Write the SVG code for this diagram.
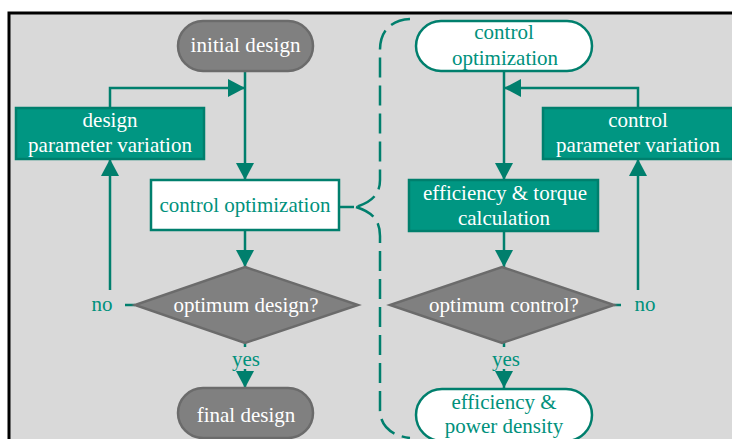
<svg xmlns="http://www.w3.org/2000/svg" width="732" height="439" viewBox="0 0 732 439" font-family="'Liberation Serif', 'DejaVu Serif', serif">
  <style>
    text { font-family: 'Liberation Serif', 'DejaVu Serif', serif; font-size: 21px; text-anchor: middle; }
    .light { fill: #ffffff; }
    .dark { fill: #00917c; }
    .term { fill: #808080; stroke: #6b6b6b; stroke-width: 2.5; }
    .proc { fill: #009682; stroke: #007f6d; stroke-width: 2.5; }
    .open { fill: #ffffff; stroke: #007f6d; stroke-width: 2.5; }
    .wire { fill: none; stroke: #007f6d; stroke-width: 2.5; }
    .brace { fill: none; stroke: #007f6d; stroke-width: 2.5; stroke-dasharray: 20 8; }
  </style>
  <defs>
    <marker id="head" markerUnits="userSpaceOnUse" markerWidth="18" markerHeight="18" viewBox="0 0 18 18" refX="17" refY="9" orient="auto">
      <path d="M0,0 L17,9 L0,18 Z" fill="#007f6d"/>
    </marker>
  </defs>

  <!-- frame -->
  <rect x="0" y="0" width="732" height="439" fill="#ffffff"/>
  <rect x="9" y="13" width="740" height="440" fill="#d9d9d9" stroke="#000000" stroke-width="3"/>

  <!-- connectors -->
  <g id="connectors">
    <!-- design loop -->
    <path class="wire" d="M245,71 L245,180" marker-end="url(#head)"/>
    <path class="wire" d="M110,108 L110,88 L245,88" marker-end="url(#head)"/>
    <path class="wire" d="M245,230 L245,267" marker-end="url(#head)"/>
    <path class="wire" d="M135,305 L125,305"/>
    <path class="wire" d="M110,290 L110,159" marker-end="url(#head)"/>
    <path class="wire" d="M245,343 L245,347"/>
    <path class="wire" d="M245,369 L245,388" marker-end="url(#head)"/>
    <!-- control loop -->
    <path class="wire" d="M504,71 L504,180" marker-end="url(#head)"/>
    <path class="wire" d="M638,108 L638,88 L504,88" marker-end="url(#head)"/>
    <path class="wire" d="M504,231 L504,267" marker-end="url(#head)"/>
    <path class="wire" d="M614,305 L621,305"/>
    <path class="wire" d="M638,290 L638,159" marker-end="url(#head)"/>
    <path class="wire" d="M504,343 L504,347"/>
    <path class="wire" d="M504,369 L504,388" marker-end="url(#head)"/>
    <!-- brace linking the control optimization step to its detail -->
    <path class="wire" d="M339,207 L354,207"/>
    <path class="brace" d="M410,19 C390,20 380,32 380,50 L380,180 C380,194 372,202 356,207"/>
    <path class="brace" d="M356,207 C372,212 380,220 380,236 L380,410 C380,426 392,436 410,438"/>
  </g>

  <!-- design loop nodes -->
  <g id="initial-design">
    <rect class="term" x="178" y="21" width="135" height="50" rx="25"/>
    <text class="light" x="245.5" y="52" textLength="110">initial design</text>
  </g>
  <g id="design-parameter-variation">
    <rect class="proc" x="16" y="108" width="188" height="51"/>
    <text class="light" x="110" y="127">design</text>
    <text class="light" x="110" y="152">parameter variation</text>
  </g>
  <g id="control-optimization-step">
    <rect class="open" x="151" y="180" width="188" height="50"/>
    <text class="dark" x="245" y="212">control optimization</text>
  </g>
  <g id="optimum-design">
    <polygon class="term" points="245,267 358,305 245,343 135,305"/>
    <text class="light" x="246" y="312">optimum design?</text>
  </g>
  <g id="design-labels">
    <text class="dark" x="102" y="311">no</text>
    <text class="dark" x="246" y="366">yes</text>
  </g>
  <g id="final-design">
    <rect class="term" x="178" y="388" width="135" height="50" rx="25"/>
    <text class="light" x="246" y="422">final design</text>
  </g>

  <!-- control loop nodes -->
  <g id="control-optimization">
    <rect class="open" x="416" y="21" width="176" height="50" rx="25"/>
    <text class="dark" x="504" y="39">control</text>
    <text class="dark" x="505" y="65">optimization</text>
  </g>
  <g id="control-parameter-variation">
    <rect class="proc" x="543" y="108" width="190" height="51"/>
    <text class="light" x="638" y="127">control</text>
    <text class="light" x="638" y="152">parameter variation</text>
  </g>
  <g id="efficiency-torque">
    <rect class="proc" x="409" y="180" width="189" height="51"/>
    <text class="light" x="505" y="200">efficiency &amp; torque</text>
    <text class="light" x="504" y="225">calculation</text>
  </g>
  <g id="optimum-control">
    <polygon class="term" points="502,267 614,305 502,343 390,305"/>
    <text class="light" x="504" y="312">optimum control?</text>
  </g>
  <g id="control-labels">
    <text class="dark" x="645" y="311">no</text>
    <text class="dark" x="506" y="366">yes</text>
  </g>
  <g id="efficiency-power-density">
    <rect class="open" x="416" y="389" width="176" height="52" rx="26"/>
    <text class="dark" x="504" y="409">efficiency &amp;</text>
    <text class="dark" x="504" y="433">power density</text>
  </g>
</svg>
